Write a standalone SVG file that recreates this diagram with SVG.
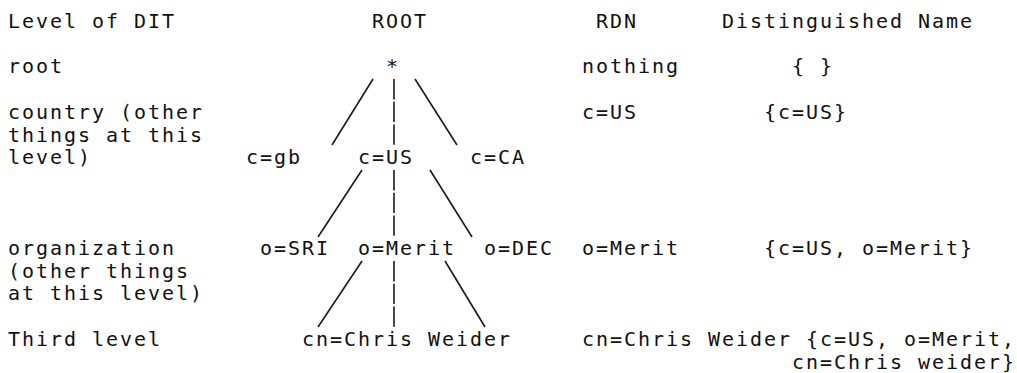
<svg xmlns="http://www.w3.org/2000/svg" width="1017" height="373" viewBox="0 0 1017 373">
  <style>
    text { font-family: "DejaVu Sans Mono", "Liberation Mono", monospace; font-size: 20px; letter-spacing: 1.96px; fill: #111; }
    .c { stroke: #1a1a1a; stroke-width: 1.6; fill: none; }
    .v { stroke-dasharray: 20.4 2.3; }
  </style>
  <rect width="1017" height="373" fill="#fff"/>
  <g id="headers">
    <text x="8" y="28">Level of DIT</text>
    <text x="372" y="28">ROOT</text>
    <text x="596" y="28">RDN</text>
    <text x="722" y="28">Distinguished Name</text>
  </g>
  <g id="levels">
    <text x="8" y="73.4">root</text>
    <text x="8" y="118.8">country (other</text>
    <text x="8" y="141.5">things at this</text>
    <text x="8" y="164.2">level)</text>
    <text x="8" y="255">organization</text>
    <text x="8" y="277.7">(other things</text>
    <text x="8" y="300.4">at this level)</text>
    <text x="8" y="345.8">Third level</text>
  </g>
  <g id="node-root"><text x="386" y="73.4">*</text></g>
  <g id="node-c-gb"><text x="246" y="164.2">c=gb</text></g>
  <g id="node-c-us"><text x="358" y="164.2">c=US</text></g>
  <g id="node-c-ca"><text x="470" y="164.2">c=CA</text></g>
  <g id="node-o-sri"><text x="260" y="255">o=SRI</text></g>
  <g id="node-o-merit"><text x="358" y="255">o=Merit</text></g>
  <g id="node-o-dec"><text x="484" y="255">o=DEC</text></g>
  <g id="node-cn"><text x="302" y="345.8">cn=Chris Weider</text></g>
  <g id="rdn">
    <text x="582" y="73.4">nothing</text>
    <text x="582" y="118.8">c=US</text>
    <text x="582" y="255">o=Merit</text>
    <text x="582" y="345.8">cn=Chris Weider</text>
  </g>
  <g id="dn">
    <text x="792" y="73.4">{ }</text>
    <text x="764" y="118.8">{c=US}</text>
    <text x="764" y="255">{c=US, o=Merit}</text>
    <text x="806" y="345.8">{c=US, o=Merit,</text>
    <text x="792" y="368.5">cn=Chris weider}</text>
  </g>
  <g id="connectors">
    <line class="c" x1="373" y1="79" x2="332" y2="145"/>
    <line class="c v" x1="394" y1="79" x2="394" y2="145"/>
    <line class="c" x1="415" y1="79" x2="457" y2="145"/>
    <line class="c" x1="362" y1="170" x2="318" y2="237"/>
    <line class="c v" x1="394" y1="170" x2="394" y2="237"/>
    <line class="c" x1="430" y1="170" x2="472" y2="237"/>
    <line class="c" x1="362" y1="261" x2="318" y2="327"/>
    <line class="c v" x1="394" y1="261" x2="394" y2="327"/>
    <line class="c" x1="445" y1="261" x2="485" y2="327"/>
  </g>
</svg>
